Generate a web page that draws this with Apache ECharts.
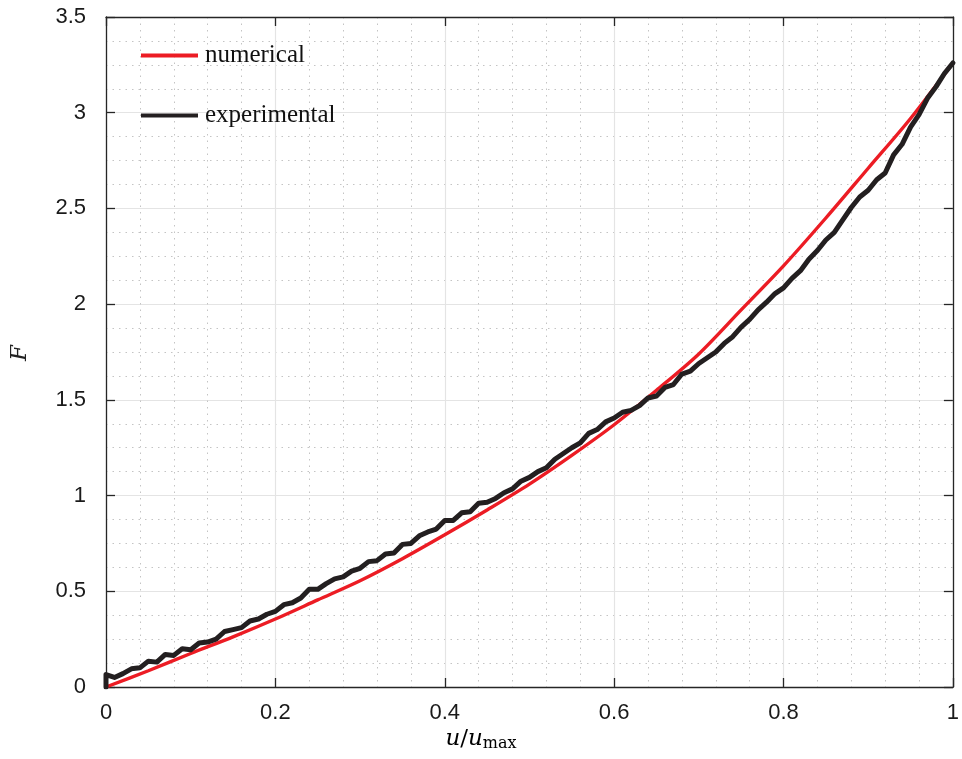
<!DOCTYPE html>
<html>
<head>
<meta charset="utf-8">
<script src="https://cdn.jsdelivr.net/npm/echarts@6/dist/echarts.min.js"></script>
<style>
  html, body { margin: 0; padding: 0; background: #fff; }
  #main { width: 962px; height: 759px; }
</style>
</head>
<body>
<div id="main"></div>
<script>
// numerical curve
var uNum = [0, 0.05, 0.1, 0.15, 0.2, 0.25, 0.3, 0.35, 0.4, 0.45, 0.5,
            0.55, 0.6, 0.65, 0.7, 0.75, 0.8, 0.85, 0.9, 0.95, 1.0];
var fNum = [0, 0.085, 0.175, 0.262, 0.355, 0.455, 0.555, 0.67, 0.795, 0.925, 1.06,
            1.21, 1.37, 1.55, 1.74, 1.97, 2.2, 2.45, 2.71, 2.97, 3.26];

// experimental curve (wiggles estimated)
var uExp = [0, 0, 0.01, 0.02, 0.03, 0.04, 0.05, 0.06, 0.07, 0.08, 0.09,
            0.10, 0.11, 0.12, 0.13, 0.14, 0.15, 0.16, 0.17, 0.18, 0.19,
            0.20, 0.21, 0.22, 0.23, 0.24, 0.25, 0.26, 0.27, 0.28, 0.29,
            0.30, 0.31, 0.32, 0.33, 0.34, 0.35, 0.36, 0.37, 0.38, 0.39,
            0.40, 0.41, 0.42, 0.43, 0.44, 0.45, 0.46, 0.47, 0.48, 0.49,
            0.50, 0.51, 0.52, 0.53, 0.54, 0.55, 0.56, 0.57, 0.58, 0.59,
            0.60, 0.61, 0.62, 0.63, 0.64, 0.65, 0.66, 0.67, 0.68, 0.69,
            0.70, 0.71, 0.72, 0.73, 0.74, 0.75, 0.76, 0.77, 0.78, 0.79,
            0.80, 0.81, 0.82, 0.83, 0.84, 0.85, 0.86, 0.87, 0.88, 0.89,
            0.90, 0.91, 0.92, 0.93, 0.94, 0.95, 0.96, 0.97, 0.98, 0.99, 1.00];
var fExp = [0, 0.065, 0.05, 0.07, 0.095, 0.10, 0.135, 0.13, 0.17, 0.165, 0.20,
            0.195, 0.23, 0.235, 0.25, 0.29, 0.30, 0.31, 0.345, 0.355, 0.38,
            0.395, 0.43, 0.44, 0.465, 0.51, 0.51, 0.54, 0.565, 0.575, 0.605,
            0.62, 0.655, 0.66, 0.695, 0.70, 0.745, 0.75, 0.79, 0.81, 0.825,
            0.87, 0.87, 0.91, 0.915, 0.96, 0.965, 0.985, 1.015, 1.035, 1.075,
            1.095, 1.125, 1.145, 1.19, 1.22, 1.25, 1.275, 1.325, 1.345, 1.385,
            1.405, 1.435, 1.445, 1.47, 1.51, 1.52, 1.565, 1.58, 1.635, 1.65,
            1.69, 1.72, 1.75, 1.795, 1.83, 1.88, 1.92, 1.97, 2.01, 2.055,
            2.085, 2.135, 2.175, 2.235, 2.28, 2.335, 2.375, 2.44, 2.505, 2.56,
            2.595, 2.65, 2.685, 2.78, 2.835, 2.925, 2.99, 3.075, 3.135, 3.205, 3.26];

var seriesNames = ['numerical', 'experimental'];

function pairs(xs, ys) {
    var d = [];
    for (var i = 0; i < xs.length; i++) {
        d.push([xs[i], ys[i]]);
    }
    return d;
}

var axisColor = '#262626';
var tickFont = { fontFamily: 'Liberation Sans, Arial, sans-serif', fontSize: 22, color: '#1a1a1a' };
var majorGrid = { show: true, lineStyle: { color: '#e4e4e4', width: 1.2 } };
var minorGrid = { show: true, lineStyle: { color: '#c4c4c4', width: 1, type: [1.5, 5] } };

function mkX(pos, main) {
    return {
        type: 'value', position: pos, min: 0, max: 1, interval: 0.2,
        axisLine: { show: true, onZero: false, lineStyle: { color: axisColor, width: 1.3 } },
        axisTick: { show: true, inside: true, length: 9, lineStyle: { color: axisColor, width: 1.3 } },
        axisLabel: main ? Object.assign({ margin: 15 }, tickFont) : { show: false },
        splitLine: main ? majorGrid : { show: false },
        minorTick: { show: false, splitNumber: 5 },
        minorSplitLine: main ? minorGrid : { show: false }
    };
}
function mkY(pos, main) {
    return {
        type: 'value', position: pos, min: 0, max: 3.5, interval: 0.5,
        axisLine: { show: true, onZero: false, lineStyle: { color: axisColor, width: 1.3 } },
        axisTick: { show: true, inside: true, length: 9, lineStyle: { color: axisColor, width: 1.3 } },
        axisLabel: main ? Object.assign({ margin: 20 }, tickFont) : { show: false },
        splitLine: main ? majorGrid : { show: false },
        minorTick: { show: false, splitNumber: 4 },
        minorSplitLine: main ? minorGrid : { show: false }
    };
}

var chart = echarts.init(document.getElementById('main'), null, { renderer: 'canvas' });

var option = {
    backgroundColor: '#fff',
    animation: false,
    grid: { left: 106, top: 17, width: 850, height: 670, containLabel: false },
    xAxis: [mkX('bottom', true), mkX('top', false)],
    yAxis: [mkY('left', true), mkY('right', false)],
    legend: {
        orient: 'vertical', left: 136, top: 38,
        itemWidth: 57, itemHeight: 4, itemGap: 35,
        icon: 'rect',
        data: seriesNames,
        textStyle: { fontFamily: 'Liberation Serif, Times New Roman, serif', fontSize: 25, color: '#111', lineHeight: 25, padding: [0, 0, 0, 2] }
    },
    graphic: [
        {
            type: 'text', left: 'center', top: 726,
            style: {
                text: '{i|u}{r|/}{i|u}{s|max}',
                rich: {
                    i: { fontFamily: 'DejaVu Serif, serif', fontStyle: 'italic', fontSize: 23, color: '#222', lineHeight: 28 },
                    r: { fontFamily: 'DejaVu Serif, serif', fontSize: 23, color: '#222', lineHeight: 28 },
                    s: { fontFamily: 'DejaVu Serif, serif', fontSize: 16, color: '#222', lineHeight: 28, padding: [10, 0, 0, 0] }
                }
            }
        },
        {
            type: 'text', x: 9, y: 361, rotation: Math.PI / 2,
            style: {
                text: 'F',
                fontFamily: 'DejaVu Serif, serif', fontStyle: 'italic', fontSize: 23, fill: '#222'
            }
        }
    ],
    series: [
        {
            name: seriesNames[0], type: 'line', xAxisIndex: 0, yAxisIndex: 0,
            data: pairs(uNum, fNum), smooth: 0.3, showSymbol: false, symbol: 'none',
            itemStyle: { color: '#ec1c24' },
            lineStyle: { color: '#ec1c24', width: 3.4 },
            z: 3
        },
        {
            name: seriesNames[1], type: 'line', xAxisIndex: 0, yAxisIndex: 0,
            data: pairs(uExp, fExp), showSymbol: false, symbol: 'none',
            itemStyle: { color: '#231f20' },
            lineStyle: { color: '#231f20', width: 5, join: 'round', cap: 'round' },
            z: 4
        }
    ]
};

chart.setOption(option);
</script>
</body>
</html>
